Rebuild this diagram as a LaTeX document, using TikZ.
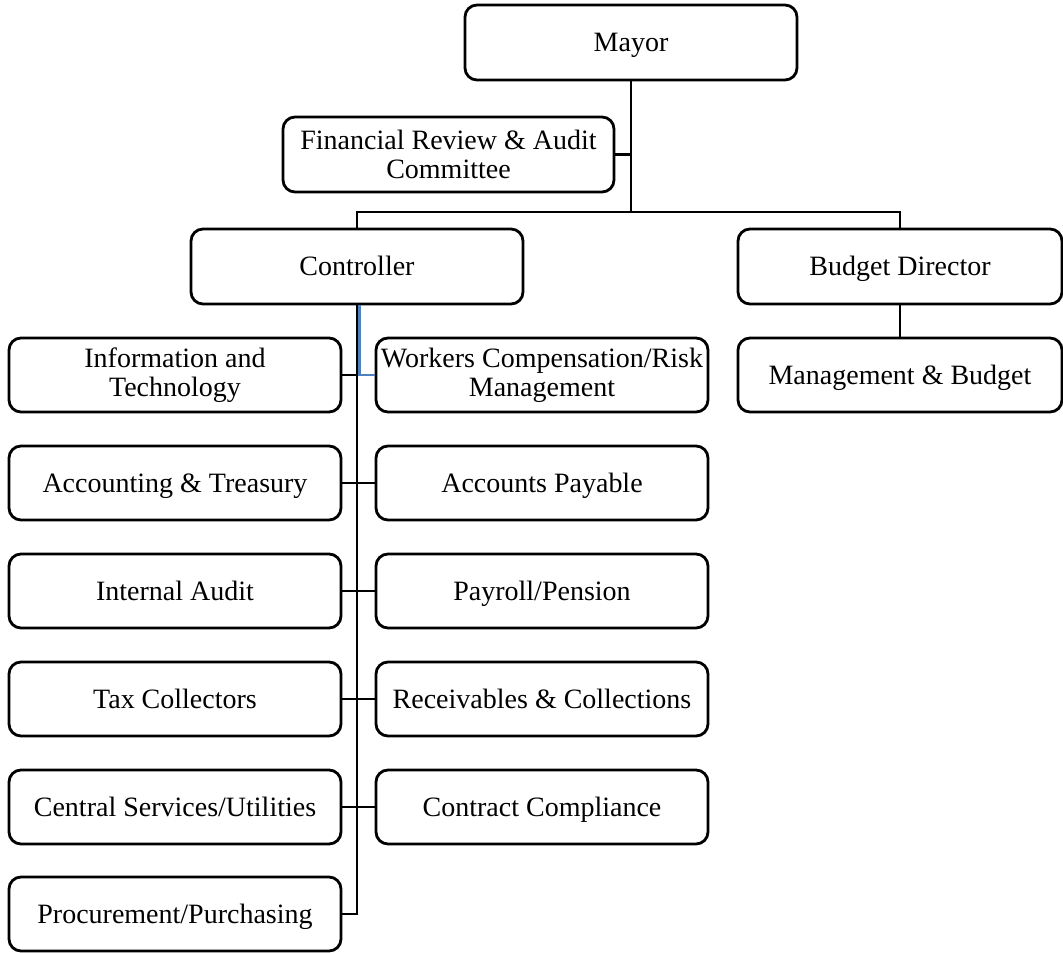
\documentclass[tikz,border=0pt]{standalone}
\usepackage{fontspec}
\setmainfont{Liberation Serif}
\begin{document}
\begin{tikzpicture}[x=1pt,y=-1pt,
  box/.style={draw=black, line width=2.8pt, rounded corners=12pt, fill=white,
    minimum width=332pt, minimum height=74pt, align=center, inner sep=2pt,
    font=\fontsize{28}{29}\selectfont},
  single/.style={text height=22pt, text depth=3.5pt},
  link/.style={draw=black, line width=2.8pt},
  bluelink/.style={draw=linkblue, line width=2.8pt}]
\definecolor{linkblue}{HTML}{4F81BD}
\useasboundingbox (0,0) rectangle (1063,953);

% top of the chart
\node[box, single, minimum height=75pt] (mayor) at (631,42.5) {Mayor};
\node[box, minimum width=331pt, minimum height=75pt] (fin) at (448.5,154.5) {Financial Review \& Audit\\Committee};
\node[box, single, minimum height=75pt] (ctrl) at (357,266.5) {Controller};
\node[box, single, minimum width=324pt, minimum height=75pt] (bud) at (900,266.5) {Budget Director};
\node[box, single, minimum width=324pt] (mgmt) at (900,375) {Management \& Budget};

% controller divisions, left column
\node[box] (it)           at (175,375) {Information and\\Technology};
\node[box, single] (acct) at (175,483) {Accounting \& Treasury};
\node[box, single] (ia)   at (175,591) {Internal Audit};
\node[box, single] (tax)  at (175,699) {Tax Collectors};
\node[box, single] (cs)   at (175,807) {Central Services/Utilities};
\node[box, single] (proc) at (175,914) {Procurement/Purchasing};

% controller divisions, right column
\node[box] (wc)          at (542,375) {Workers Compensation/Risk\\Management};
\node[box, single] (ap)  at (542,483) {Accounts Payable};
\node[box, single] (pay) at (542,591) {Payroll/Pension};
\node[box, single] (rec) at (542,699) {Receivables \& Collections};
\node[box, single] (cc)  at (542,807) {Contract Compliance};

% reporting lines
\coordinate (bus) at (631,212);
\draw[link] (mayor.south) -- (bus);
\draw[link] (fin.east) -- (fin.east -| bus);
\draw[link] (ctrl.north) |- (bus) -| (bud.north);
\draw[link] (bud.south) -- (mgmt.north);

\draw[link] (ctrl.south) -- (ctrl.south |- proc.east) -- (proc.east);
\draw[link] (it.east) -- (it.east -| ctrl.south);
\draw[bluelink] ([xshift=2.2pt]ctrl.south) |- (wc.west);
\draw[link] (acct.east) -- (ap.west);
\draw[link] (ia.east) -- (pay.west);
\draw[link] (tax.east) -- (rec.west);
\draw[link] (cs.east) -- (cc.west);
\end{tikzpicture}
\end{document}
